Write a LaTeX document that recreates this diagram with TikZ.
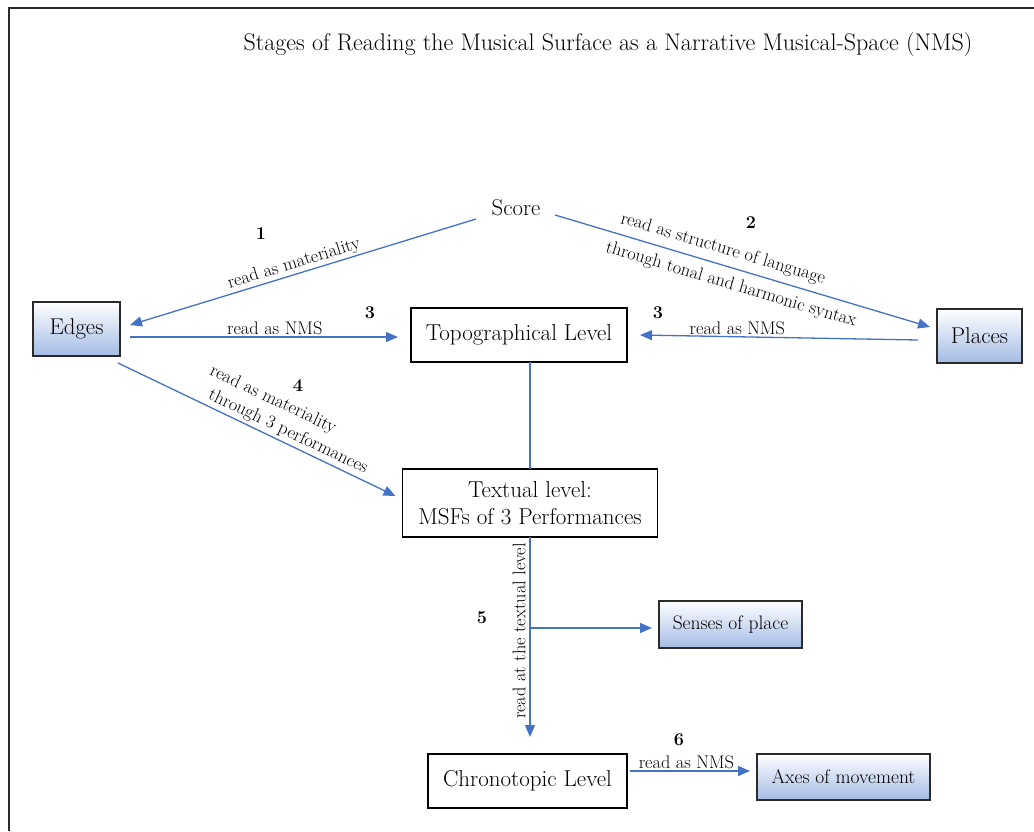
\documentclass[tikz,border=0pt]{standalone}
\usepackage{fontspec}
\usetikzlibrary{arrows.meta}
\definecolor{linkblue}{HTML}{4472C4}
\definecolor{shadetop}{HTML}{FFFFFF}
\definecolor{shademid}{HTML}{DCE5F5}
\definecolor{shadebot}{HTML}{A3BBE5}
\definecolor{framegray}{HTML}{2A2A2A}
\tikzset{
  every node/.style={inner sep=0pt, outer sep=0pt},
  heading/.style={font=\fontsize{24}{28}\selectfont},
  plaintext/.style={font=\fontsize{22.8}{26}\selectfont},
  levelbox/.style={draw=black, line width=1.2pt, fill=white, align=center,
    font=\fontsize{23}{27}\selectfont},
  shadebox/.style={draw=framegray, line width=1.2pt, top color=shadetop,
    middle color=shademid, bottom color=shadebot, align=center},
  bigshade/.style={shadebox, font=\fontsize{22.8}{26}\selectfont},
  smallshade/.style={shadebox, font=\fontsize{19.5}{22}\selectfont},
  link/.style={draw=linkblue, line width=1.3pt},
  arrowlink/.style={link, -{Triangle[length=12pt,width=10pt]}},
  lbl/.style={font=\fontsize{18.3}{20}\selectfont, inner sep=2pt},
  stepnum/.style={font=\bfseries\fontsize{18}{20}\selectfont},
}
\begin{document}
\begin{tikzpicture}[x=1pt, y=-1pt]
\useasboundingbox (0,0) rectangle (1034,831);
% page frame
\draw[framegray, line width=2pt] (9,831) -- (9,8) -- (1034,8);

% heading
\node[heading] (title) at (608,45) {Stages of Reading the Musical Surface as a Narrative Musical-Space (NMS)};

% nodes
\node[plaintext] (score) at (516,208) {Score};
\node[bigshade, minimum width=87, minimum height=54] (edges) at (76.5,329) {Edges};
\node[bigshade, minimum width=85, minimum height=54] (places) at (979.5,336) {Places};
\node[levelbox, minimum width=216, minimum height=54] (topo) at (519,335) {Topographical Level};
\node[levelbox, minimum width=255, minimum height=68] (textual) at (530,503) {Textual level:\\MSFs of 3 Performances};
\node[smallshade, minimum width=143, minimum height=47] (senses) at (730.5,624.5) {Senses of place};
\node[levelbox, minimum width=199, minimum height=54] (chrono) at (527.5,781) {Chronotopic Level};
\node[smallshade, minimum width=173, minimum height=46] (axes) at (843.5,777) {Axes of movement};

% 1: score -> edges
\draw[arrowlink] ([shift={(-40,11)}]score.center) -- ([shift={(10,-4)}]edges.east);
\node[lbl, rotate=17] (l1) at (294,264) {read as materiality};
\node[stepnum] (n1) at (261,234) {1};

% 2: score -> places
\draw[arrowlink] ([shift={(39,7)}]score.center) -- ([shift={(-7,-9)}]places.west);
\node[lbl, rotate=-16.6] (l2a) at (723,249) {read as structure of language};
\node[lbl, rotate=-16.6] (l2b) at (731,285) {through tonal and harmonic syntax};
\node[stepnum] (n2) at (751,223) {2};

% 3: edges -> topographical, places -> topographical
\draw[arrowlink] ([shift={(10,8)}]edges.east) -- node[lbl, above, pos=0.54] {read as NMS} ([shift={(-13,2)}]topo.west);
\node[stepnum] (n3a) at (370,313) {3};
\draw[arrowlink] ([shift={(-19,4)}]places.west) -- node[lbl, above, pos=0.65] {read as NMS} ([shift={(13,0)}]topo.east);
\node[stepnum] (n3b) at (658,313) {3};

% 4: edges -> textual
\draw[arrowlink] ([shift={(41.5,7)}]edges.south) -- ([shift={(-7,-7)}]textual.west);
\node[lbl, rotate=-25.4] (l4a) at (273,400) {read as materiality};
\node[lbl, rotate=-25.4] (l4b) at (288,432) {through 3 performances};
\node[stepnum] (n4) at (298,386) {4};

% topographical -> textual
\draw[link] (textual.north |- topo.south) -- (textual.north);

% 5: textual -> chronotopic, with branch to senses of place
\draw[arrowlink] (textual.south) -- ([shift={(0,-17)}]textual.south |- chrono.north);
\coordinate (branch) at (textual.south |- 0,628);
\draw[arrowlink] (branch) -- ([shift={(-7,3.5)}]senses.west);
\node[lbl, rotate=90] (l5) at (519,631) {read at the textual level};
\node[stepnum] (n5) at (482,618) {5};

% 6: chronotopic -> axes
\draw[arrowlink] ([shift={(3,-10)}]chrono.east) -- node[lbl, above, pos=0.47] {read as NMS} ([shift={(-7,-6)}]axes.west);
\node[stepnum] (n6) at (679,740) {6};
\end{tikzpicture}
\end{document}
